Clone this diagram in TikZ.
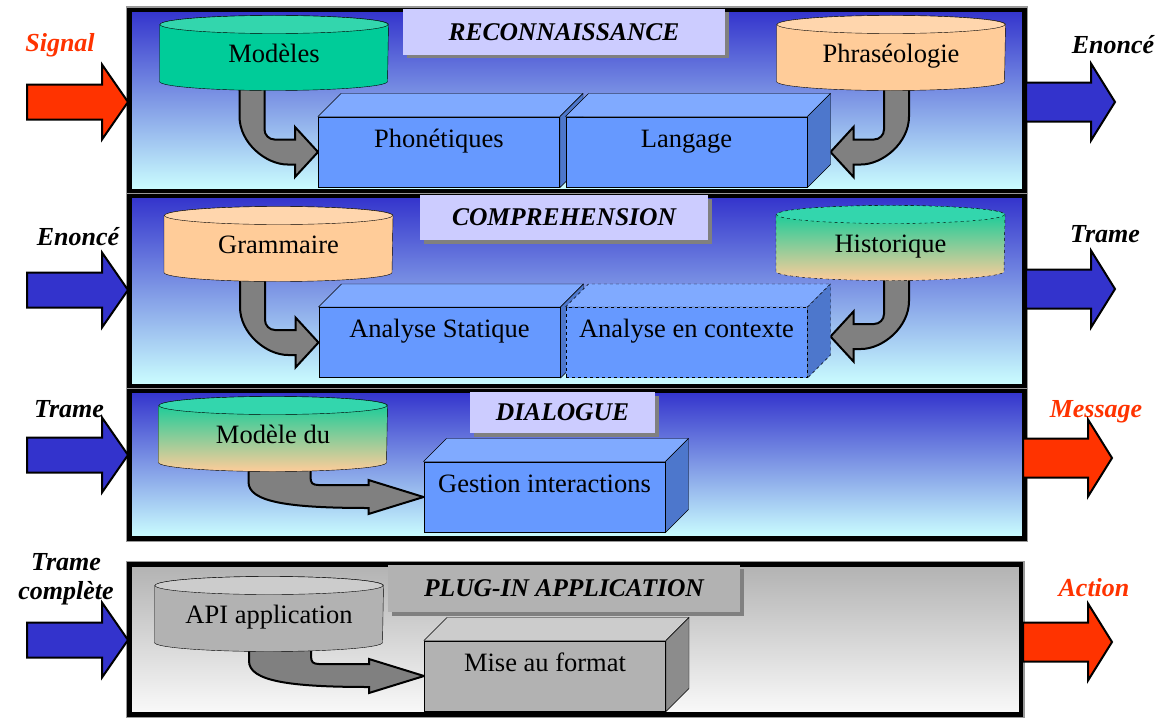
\documentclass[tikz,border=0pt]{standalone}
\usepackage{fontspec}
\setmainfont{Liberation Serif}
\usetikzlibrary{calc,shadows}

\definecolor{bandtop}{RGB}{51,51,204}
\definecolor{bandbot}{RGB}{204,255,255}
\definecolor{plugtop}{RGB}{178,178,178}
\definecolor{plugbot}{RGB}{250,250,250}
\definecolor{lavender}{RGB}{204,204,255}
\definecolor{plugtitle}{RGB}{178,178,178}
\definecolor{dbteal}{RGB}{0,204,153}
\definecolor{dbtealtop}{RGB}{51,214,173}
\definecolor{dbpeach}{RGB}{255,204,153}
\definecolor{dbpeachtop}{RGB}{255,214,173}
\definecolor{boxfront}{RGB}{102,153,255}
\definecolor{boxtop}{RGB}{128,170,255}
\definecolor{boxside}{RGB}{77,119,204}
\definecolor{graybox}{RGB}{178,178,178}
\definecolor{graytop}{RGB}{204,204,204}
\definecolor{grayside}{RGB}{140,140,140}
\definecolor{sigred}{RGB}{255,51,0}
\definecolor{sigblue}{RGB}{51,51,204}
\definecolor{bendgray}{RGB}{128,128,128}

\pgfdeclarelayer{bands}
\pgfdeclarelayer{arrows}
\pgfdeclarelayer{faces}
\pgfsetlayers{bands,arrows,faces,main}

\newcommand{\bodyfont}{\fontsize{26.5}{29}\selectfont}

% cylinder behind its text node: node, body options, lid options
\newcommand{\dbshape}[3]{%
  \draw[#2] (#1.north west) -- (#1.south west)
    arc[start angle=180, delta angle=-180, x radius=114, y radius=9]
    -- (#1.north east)
    arc[start angle=0, delta angle=-180, x radius=114, y radius=9] -- cycle;
  \draw[#3] (#1.north) ellipse[x radius=114, y radius=9];}

% top and side faces of a module: node, top colour, side colour, extra options
\newcommand{\boxfaces}[4]{%
  \draw[fill=#2,#4] (#1.north west) -- ++(23,-23) -- ([shift={(23,-23)}]#1.north east) -- (#1.north east) -- cycle;
  \draw[fill=#3,#4] (#1.north east) -- ++(23,-23) -- ([shift={(23,-23)}]#1.south east) -- (#1.south east) -- cycle;}

% bent block arrow, base -> tip; #3 = 1 bends right, -1 bends left
\newcommand{\fatbend}[3]{%
  \draw[bendarrow] let \p1=(#1.south), \p2=(#2) in
    ({\x2-(#3)*78.5pt},\y1) -- ({\x2-(#3)*78.5pt},{\y2+35.5pt})
    .. controls ({\x2-(#3)*78.5pt},{\y2+9pt}) and ({\x2-(#3)*52pt},{\y2-12.5pt}) .. ({\x2-(#3)*30.5pt},{\y2-12.5pt})
    -- ({\x2-(#3)*23pt},{\y2-12.5pt}) -- ({\x2-(#3)*23pt},{\y2-25pt}) -- (\x2,\y2)
    -- ({\x2-(#3)*23pt},{\y2+25pt}) -- ({\x2-(#3)*23pt},{\y2+12.5pt})
    -- ({\x2-(#3)*43.5pt},{\y2+12.5pt}) .. controls ({\x2-(#3)*49pt},{\y2+12.5pt}) and ({\x2-(#3)*53.5pt},{\y2+17pt}) .. ({\x2-(#3)*53.5pt},{\y2+22.5pt})
    -- ({\x2-(#3)*53.5pt},\y1) -- cycle;}

% flatter bent arrow (dialogue, plug-in)
\newcommand{\flatbend}[2]{%
  \draw[bendarrow] let \p1=(#1.south), \p2=(#2.west) in
    ({\x2-175pt},\y1) -- ({\x2-175pt},{\y2+15pt})
    .. controls ({\x2-175pt},{\y2-5pt}) and ({\x2-135pt},{\y2-11pt}) .. ({\x2-55pt},{\y2-11pt})
    -- ({\x2-55pt},{\y2-17pt}) -- (\x2,\y2) -- ({\x2-55pt},{\y2+17pt}) -- ({\x2-55pt},{\y2+12pt})
    -- ({\x2-105pt},{\y2+12pt}) .. controls ({\x2-111pt},{\y2+12pt}) and ({\x2-113pt},{\y2+14pt}) .. ({\x2-113pt},{\y2+20pt})
    -- ({\x2-113pt},\y1) -- cycle;}

% input / output arrows
\newcommand{\inarrow}[2]{%
  \draw[ioarr,fill=#2] (#1) -- ++(-26,-37.5) -- ++(0,20) -- ++(-75,0) -- ++(0,35) -- ++(75,0) -- ++(0,20) -- cycle;}
\newcommand{\outarrow}[2]{%
  \draw[ioarr,fill=#2] (#1) ++(0,-19.5) -- ++(65,0) -- ++(0,-19) -- ++(24,38.5) -- ++(-24,38.5) -- ++(0,-19) -- ++(-65,0) -- cycle;}

\begin{document}
\begin{tikzpicture}[x=1pt, y=-1pt, line width=1pt,
    band/.style={draw=black, line width=4.5pt, preaction={draw=black!40, line width=7pt}},
    ttl/.style={inner sep=0pt, font=\fontsize{25.5}{28}\selectfont\bfseries\itshape,
      drop shadow={shadow xshift=3.5pt, shadow yshift=-3.5pt, fill=black!50, opacity=1}},
    cyl/.style={minimum width=228pt, minimum height=56pt, inner sep=0pt, text height=22pt, text depth=3pt, font=\bodyfont},
    cube/.style={draw, minimum width=241pt, minimum height=70pt, inner xsep=0pt, inner ysep=5pt,
      text height=25pt, text depth=35pt, font=\bodyfont},
    side/.style={font=\fontsize{26}{29}\selectfont\bfseries\itshape, inner sep=0pt, anchor=base},
    bendarrow/.style={draw=black, line width=2pt, fill=bendgray},
    ioarr/.style={draw=black, line width=2pt}]

\useasboundingbox (0,0) rectangle (1161,717);

% titles
\node[ttl, fill=lavender, minimum width=322pt, minimum height=46pt] (reco) at (564,32) {RECONNAISSANCE};
\node[ttl, fill=lavender, minimum width=288pt, minimum height=45pt] (comp) at (564,217.5) {COMPREHENSION};
\node[ttl, fill=lavender, minimum width=185pt, minimum height=41pt] (dial) at (562.5,412.5) {DIALOGUE};
\node[ttl, fill=plugtitle, minimum width=352pt, minimum height=47pt] (plug) at (564,588.5) {PLUG-IN APPLICATION};

% bases
\node[cyl] (modeles) at (274,53) {Modèles};
\node[cyl] (phraseo) at (891,53) {Phraséologie};
\node[cyl] (gramm) at (278.5,244) {Grammaire};
\node[cyl] (histo) at (890.5,243) {Historique};
\node[cyl] (dialmod) at (273,434) {Modèle du};
\node[cyl] (api) at (269,614) {API application};

% modules
\node[cube, fill=boxfront] (phon) at (439,152) {Phonétiques};
\node[cube, fill=boxfront] (lang) at (686.5,152) {Langage};
\node[cube, fill=boxfront] (stat) at (439.5,342.5) {Analyse Statique};
\node[cube, fill=boxfront, dashed] (ctx) at (686.5,342.5) {Analyse en contexte};
\node[cube, fill=boxfront] (gest) at (544.5,497) {Gestion interactions};
\node[cube, fill=graybox] (mise) at (545,676) {Mise au format};

% inputs and outputs
\node[side, text=sigred] (lsig) at (60,52) {Signal};
\node[side] (renonce) at (1113,53) {Enoncé};
\node[side] (lenonce) at (78,245) {Enoncé};
\node[side] (rtrame) at (1105,242) {Trame};
\node[side] (ltrame) at (69,417) {Trame};
\node[side, text=sigred] (rmsg) at (1096,417) {Message};
\node[side, anchor=center, align=center] (ltramec) at (66,579) {Trame\\complète};
\node[side, text=sigred] (ract) at (1094,596) {Action};

\inarrow{128,102}{sigred}
\inarrow{128,290}{sigblue}
\inarrow{128,455}{sigblue}
\inarrow{128,640}{sigblue}
\outarrow{1026,102}{sigblue}
\outarrow{1026,289}{sigblue}
\outarrow{1023,458}{sigred}
\outarrow{1023,642}{sigred}

\begin{pgfonlayer}{bands}
  \foreach \ya/\yb in {10/191, 196/386, 391/538.5}
    \draw[band, top color=bandtop, bottom color=bandbot] (129.5,\ya) rectangle (1024.5,\yb);
  \draw[band, top color=plugtop, bottom color=plugbot] (129.5,564.5) rectangle (1021,714.5);
\end{pgfonlayer}

\begin{pgfonlayer}{arrows}
  \fatbend{modeles}{phon.west}{1}
  \fatbend{phraseo}{[xshift=23pt]lang.east}{-1}
  \fatbend{gramm}{stat.west}{1}
  \fatbend{histo}{[shift={(23pt,6pt)}]ctx.east}{-1}
  \flatbend{dialmod}{gest}
  \flatbend{api}{mise}
\end{pgfonlayer}

\begin{pgfonlayer}{faces}
  \dbshape{modeles}{fill=dbteal}{fill=dbtealtop}
  \dbshape{phraseo}{fill=dbpeach}{fill=dbpeachtop}
  \dbshape{gramm}{fill=dbpeach}{fill=dbpeachtop}
  \dbshape{histo}{dashed, top color=dbteal, bottom color=dbpeach}{dashed, fill=dbtealtop}
  \dbshape{dialmod}{top color=dbteal, bottom color=dbpeach}{fill=dbtealtop}
  \dbshape{api}{fill=graybox}{fill=graytop}
  \boxfaces{phon}{boxtop}{boxside}{}
  \boxfaces{lang}{boxtop}{boxside}{}
  \boxfaces{stat}{boxtop}{boxside}{}
  \boxfaces{ctx}{boxtop}{boxside}{dashed}
  \boxfaces{gest}{boxtop}{boxside}{}
  \boxfaces{mise}{graytop}{grayside}{}
\end{pgfonlayer}

\end{tikzpicture}
\end{document}
